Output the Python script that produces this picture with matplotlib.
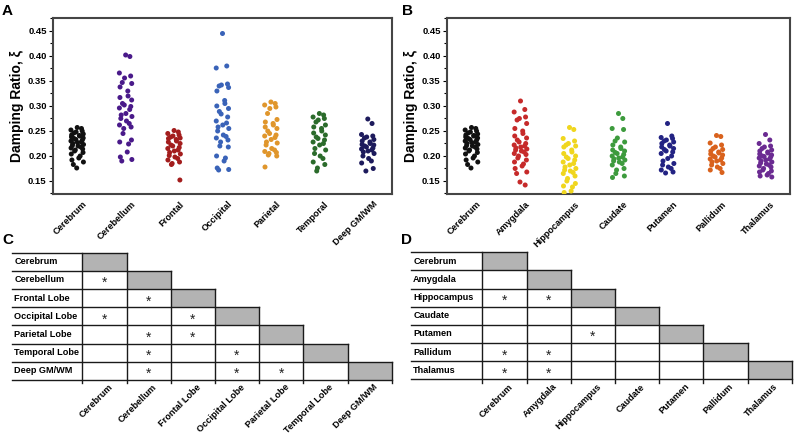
import numpy as np
import matplotlib
matplotlib.use('Agg')
import matplotlib.pyplot as plt
from matplotlib.transforms import ScaledTranslation
from matplotlib.patches import Rectangle

plt.rcParams['font.family'] = ['Liberation Sans', 'DejaVu Sans']
plt.rcParams['font.weight'] = 'bold'
plt.rcParams['axes.labelweight'] = 'bold'

# ---- panel A: lobes ----
lobe_names = ['Cerebrum', 'Cerebellum', 'Frontal', 'Occipital', 'Parietal', 'Temporal', 'Deep GM/WM']
lobe_colors = ['#111111', '#4a1a8a', '#a31d1d', '#3a63b8', '#e0962c', '#2b6b2b', '#1d1b5c']

cerebrum = [0.257, 0.255, 0.252, 0.250, 0.248, 0.246, 0.244, 0.242, 0.241, 0.240, 0.238, 0.236,
            0.235, 0.233, 0.232, 0.230, 0.228, 0.227, 0.225, 0.223, 0.221, 0.220, 0.218, 0.216,
            0.214, 0.212, 0.210, 0.207, 0.204, 0.200, 0.196, 0.192, 0.188, 0.183, 0.176]
cerebellum = [0.402, 0.399, 0.366, 0.360, 0.356, 0.347, 0.345, 0.338, 0.330, 0.320, 0.317, 0.312,
              0.305, 0.302, 0.299, 0.296, 0.293, 0.285, 0.282, 0.279, 0.275, 0.270, 0.265, 0.262,
              0.258, 0.255, 0.245, 0.232, 0.228, 0.224, 0.208, 0.198, 0.193, 0.190]
frontal = [0.251, 0.248, 0.245, 0.242, 0.240, 0.238, 0.236, 0.235, 0.233, 0.230, 0.228, 0.225,
           0.222, 0.220, 0.217, 0.215, 0.212, 0.210, 0.207, 0.204, 0.201, 0.198, 0.195, 0.192,
           0.188, 0.185, 0.183, 0.152]
occipital = [0.445, 0.380, 0.376, 0.344, 0.342, 0.340, 0.337, 0.330, 0.311, 0.305, 0.300, 0.295,
             0.289, 0.284, 0.278, 0.270, 0.266, 0.262, 0.258, 0.255, 0.250, 0.242, 0.239, 0.236,
             0.232, 0.228, 0.220, 0.218, 0.200, 0.196, 0.190, 0.176, 0.173, 0.172]
parietal = [0.308, 0.305, 0.302, 0.298, 0.295, 0.285, 0.273, 0.268, 0.265, 0.262, 0.258, 0.255,
            0.250, 0.245, 0.242, 0.240, 0.237, 0.233, 0.228, 0.226, 0.222, 0.215, 0.212, 0.209,
            0.207, 0.205, 0.202, 0.200, 0.178]
temporal = [0.285, 0.282, 0.278, 0.275, 0.272, 0.268, 0.262, 0.258, 0.255, 0.250, 0.246, 0.242,
            0.238, 0.235, 0.232, 0.228, 0.225, 0.222, 0.215, 0.212, 0.205, 0.200, 0.195, 0.188,
            0.183, 0.176, 0.170]
deep = [0.274, 0.265, 0.243, 0.240, 0.238, 0.236, 0.233, 0.230, 0.228, 0.225, 0.223, 0.222,
        0.220, 0.218, 0.216, 0.214, 0.212, 0.210, 0.208, 0.205, 0.200, 0.195, 0.190, 0.186,
        0.175, 0.170]
lobe_data = [cerebrum, cerebellum, frontal, occipital, parietal, temporal, deep]

# ---- panel B: deep structures ----
deep_names = ['Cerebrum', 'Amygdala', 'Hippocampus', 'Caudate', 'Putamen', 'Pallidum', 'Thalamus']
deep_colors = ['#111111', '#c62a2a', '#f0d61e', '#3d9b3d', '#232383', '#d9621d', '#6b2b92']

amygdala = [0.310, 0.293, 0.288, 0.278, 0.275, 0.272, 0.265, 0.255, 0.250, 0.245, 0.240, 0.236,
            0.232, 0.228, 0.225, 0.222, 0.220, 0.218, 0.216, 0.214, 0.212, 0.210, 0.208, 0.205,
            0.203, 0.200, 0.196, 0.192, 0.188, 0.184, 0.180, 0.175, 0.168, 0.165, 0.148, 0.142]
hippocampus = [0.257, 0.253, 0.235, 0.230, 0.225, 0.222, 0.220, 0.218, 0.212, 0.208, 0.205, 0.200,
               0.198, 0.195, 0.192, 0.188, 0.185, 0.182, 0.178, 0.175, 0.172, 0.170, 0.167, 0.165,
               0.160, 0.155, 0.150, 0.145, 0.140, 0.138, 0.130, 0.127]
caudate = [0.285, 0.275, 0.255, 0.253, 0.236, 0.230, 0.228, 0.222, 0.218, 0.215, 0.212, 0.210,
           0.207, 0.205, 0.203, 0.200, 0.198, 0.196, 0.194, 0.192, 0.190, 0.188, 0.185, 0.182,
           0.175, 0.172, 0.165, 0.160, 0.157]
putamen = [0.265, 0.240, 0.237, 0.235, 0.232, 0.230, 0.228, 0.225, 0.222, 0.220, 0.218, 0.215,
           0.213, 0.210, 0.208, 0.205, 0.200, 0.195, 0.190, 0.185, 0.182, 0.178, 0.175, 0.172,
           0.168, 0.166]
pallidum = [0.241, 0.239, 0.226, 0.222, 0.218, 0.215, 0.213, 0.210, 0.208, 0.206, 0.204, 0.202,
            0.200, 0.198, 0.196, 0.194, 0.192, 0.190, 0.188, 0.185, 0.182, 0.178, 0.175, 0.172,
            0.167]
thalamus = [0.243, 0.232, 0.225, 0.220, 0.218, 0.215, 0.212, 0.210, 0.208, 0.206, 0.204, 0.202,
            0.200, 0.199, 0.198, 0.196, 0.194, 0.192, 0.190, 0.188, 0.186, 0.184, 0.182, 0.180,
            0.178, 0.175, 0.172, 0.170, 0.168, 0.165, 0.162, 0.160, 0.158]
deep_data = [cerebrum, amygdala, hippocampus, caudate, putamen, pallidum, thalamus]

# ---- panels C/D: significance tables (row, col) of '*' ----
lobe_rows = ['Cerebrum', 'Cerebellum', 'Frontal Lobe', 'Occipital Lobe', 'Parietal Lobe',
             'Temporal Lobe', 'Deep GM/WM']
lobe_sig = [(1, 0), (2, 1), (3, 0), (3, 2), (4, 1), (4, 2), (5, 1), (5, 3), (6, 1), (6, 3), (6, 4)]
deep_rows = ['Cerebrum', 'Amygdala', 'Hippocampus', 'Caudate', 'Putamen', 'Pallidum', 'Thalamus']
deep_sig = [(2, 0), (2, 1), (4, 2), (5, 0), (5, 1), (6, 0), (6, 1)]

W, H = 794, 434
fig = plt.figure(figsize=(W / 100, H / 100), dpi=100)


def px_axes(x0, y0, x1, y1):
    return fig.add_axes([x0 / W, 1 - y1 / H, (x1 - x0) / W, (y1 - y0) / H])


def strip(ax, names, data, colors):
    for i, (vals, c) in enumerate(zip(data, colors)):
        k = np.arange(len(vals))
        jit = 0.13 * np.sin(k * 2.39996)  # deterministic spread
        ax.scatter(i + jit, vals, s=13, color=c, edgecolors='none', zorder=3)
    ax.set_xlim(-0.5, 6.5)
    ax.set_ylim(0.124, 0.476)
    ax.set_yticks(np.arange(0.15, 0.451, 0.05))
    ax.set_yticks(np.arange(0.125, 0.476, 0.05), minor=True)
    ax.set_yticklabels(['%.2f' % v for v in np.arange(0.15, 0.451, 0.05)])
    ax.tick_params(axis='y', which='major', length=3, width=0.8, labelsize=6.8, pad=1.5)
    ax.tick_params(axis='y', which='minor', length=2, width=0.8)
    ax.set_xticks(range(len(names)))
    ax.set_xticklabels(names, rotation=45, ha='right', va='top', rotation_mode='anchor', fontsize=6.6)
    ax.tick_params(axis='x', length=0, pad=4)
    off = ScaledTranslation(5 / 100, 0, fig.dpi_scale_trans)
    for lab in ax.get_xticklabels():
        lab.set_transform(lab.get_transform() + off)
    for sp in ax.spines.values():
        sp.set_color('#454545')
        sp.set_linewidth(1.5)
    ax.set_ylabel('Damping Ratio, \u03be', fontsize=10, fontweight='bold', labelpad=3)


def table(ax, rows, sig, label_w):
    n = len(rows)
    lc = '#1a1a1a'
    lw = 1.0
    ax.set_xlim(-label_w, n)
    ax.set_ylim(n, 0)
    ax.axis('off')
    for r in range(n):
        ax.add_patch(Rectangle((r, r), 1, 1, facecolor='#b3b3b3', edgecolor='none', zorder=1))
        ax.plot([-label_w, r + 1], [r, r], color=lc, lw=lw, clip_on=False, zorder=2)
        ax.text(-label_w + 0.05, r + 0.5, rows[r], fontsize=6.6, ha='left', va='center')
    ax.plot([-label_w, n], [n, n], color=lc, lw=lw, clip_on=False, zorder=2)
    for k in range(n + 1):
        top = max(k - 1, 0)
        ax.plot([k, k], [top, n + 0.18], color=lc, lw=lw, clip_on=False, zorder=2)
    for r, c in sig:
        ax.text(c + 0.5, r + 0.68, '*', fontsize=10, ha='center', va='center', fontweight='normal',
                color='#222222')
    for c in range(n):
        ax.text(c + 0.58, n + 0.15, rows[c], fontsize=6.6,
                rotation=45, ha='right', va='top', rotation_mode='anchor')


axA = px_axes(53, 18, 392, 194)
strip(axA, lobe_names, lobe_data, lobe_colors)
axB = px_axes(447, 18, 790, 194)
strip(axB, deep_names, deep_data, deep_colors)

col_w = 44.2
axC = px_axes(12, 252.7, 82.3 + 7 * col_w, 380)
table(axC, lobe_rows, lobe_sig, 70.3 / col_w)
axD = px_axes(411, 252.3, 482.3 + 7 * col_w, 379.3)
table(axD, deep_rows, deep_sig, 71.3 / col_w)

for txt, x, y in [('A', 2, 4), ('B', 402, 4), ('C', 2, 233), ('D', 401, 233)]:
    fig.text(x / W, 1 - y / H, txt, fontsize=11, fontweight='bold', ha='left', va='top')

fig.savefig('out.png', dpi=100)
